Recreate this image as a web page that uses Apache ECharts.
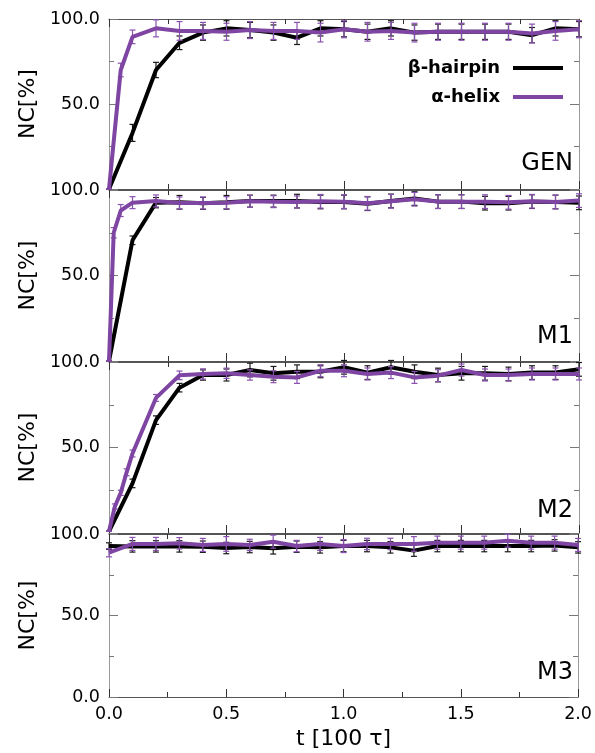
<!DOCTYPE html>
<html>
<head>
<meta charset="utf-8">
<script src="https://cdn.jsdelivr.net/npm/echarts@6/dist/echarts.min.js"></script>
<style>
html,body{margin:0;padding:0;background:#fff;}
#chart{width:595px;height:753px;}
</style>
</head>
<body>
<div id="chart"></div>
<script>
const panelNames=['GEN','M1','M2','M3'];
const seriesNames=['β-hairpin','α-helix'];

// time points
const tBlack=[0,0.1,0.2,0.3,0.4,0.5,0.6,0.7,0.8,0.9,1.0,1.1,1.2,1.3,1.4,1.5,1.6,1.7,1.8,1.9,2.0];
const tPurpleGen=[0,0.05,0.1,0.2,0.3,0.4,0.5,0.6,0.7,0.8,0.9,1.0,1.1,1.2,1.3,1.4,1.5,1.6,1.7,1.8,1.9,2.0];
const tPurpleM1=[0,0.02,0.05,0.1,0.2,0.3,0.4,0.5,0.6,0.7,0.8,0.9,1.0,1.1,1.2,1.3,1.4,1.5,1.6,1.7,1.8,1.9,2.0];
const tPurpleM2=[0,0.025,0.05,0.075,0.1,0.2,0.3,0.4,0.5,0.6,0.7,0.8,0.9,1.0,1.1,1.2,1.3,1.4,1.5,1.6,1.7,1.8,1.9,2.0];
const tPurpleM3=[0,0.1,0.2,0.3,0.4,0.5,0.6,0.7,0.8,0.9,1.0,1.1,1.2,1.3,1.4,1.5,1.6,1.7,1.8,1.9,2.0];

// GEN
const genBlack=[0,33,70,86,92,94.5,93.5,92,89,94.5,94,92.5,94.5,92,92.5,92.5,92.5,92.5,90.5,94.5,94];
const genBlackErr=[0,5,4.5,4,4.5,4.5,4.5,4.5,4,4.5,4.5,4.5,4.5,4.5,4.5,4.5,4.5,4.5,4.5,4.5,4.5];
const genPurple=[0,70,89.5,94.5,93,93,92.5,93.5,93,93,92,94,92.5,93,92,92.5,92.5,92.5,92.5,91.5,93,94];
const genPurpleErr=[0,4,4,5,5.5,5,5,5,5,5,5.5,5,5.5,5,5.5,5,5,5,5,5.5,5.5,5];

// M1
const m1Black=[0,70.6,92.6,92.8,92.2,92.8,93.5,93.5,93.5,93,93,92,93.6,95,93.2,93.2,92.3,92.3,93.2,93,92.5];
const m1BlackErr=[0,2.5,3,4,3.5,4,3.5,3.5,4,4,4,4,4,4,4,4,4,4,4,4,4];
const m1Purple=[0,75,88,92.6,93.6,92.4,92.4,92.6,93.4,93.2,93,93.4,93.2,92.2,93.4,94.6,93.2,93.2,93.2,92.8,93.4,93,93.8];
const m1PurpleErr=[0,3,3.5,3.5,3.5,3.5,3.5,3.5,3.5,3.5,3.5,4,4,4,4,4,4,4,4,4,4,4,4];

// M2
const m2Black=[1,29,66,85,92.4,92.4,95.3,93.4,94.3,94.3,96.9,93.8,96.9,94.3,92.4,93.4,93.4,93,93.8,93.8,95.7];
const m2BlackErr=[0,2.5,2.5,2.5,3,3.5,4,4,4,3.5,4,4,4,4,4,4,4,4,4,4,4];
const m2Purple=[1,15.5,23.5,35.5,46.5,79,92.2,93,93.4,92.4,91.4,91,94.9,94.9,93,93.8,91,92,95.3,92.4,92.4,93,93,93];
const m2PurpleErr=[0,1.5,1.5,2,2,2,2.5,3,3,3,3.5,3.5,3.5,3.5,3.5,3.5,3.5,3.5,3.5,3.5,3.5,3.5,3.5,3.5];

// M3
const m3Black=[92.6,92.4,92.4,92.4,92.2,91.4,92,91.2,92.2,91.8,92.6,92.6,91.8,89.8,92.6,92.6,92.6,92.6,92.6,93,91.8];
const m3BlackErr=[2,3.5,3.5,3.5,3.5,3.5,3.5,3.5,3.5,3.5,3.5,3.5,3.5,3.5,3.5,3.5,3.5,3.5,3.5,3.5,3.5];
const m3Purple=[88.5,93.9,93.9,94.3,93.3,93.9,93.3,95.3,92.6,93.9,92.6,93.9,93.9,93.9,94.7,94.7,94.7,95.9,94.7,94.7,93.3];
const m3PurpleErr=[2.5,4,4,3.5,4,4.5,3.5,4,3.5,4,4,3.5,3.5,4.5,4,4,4,4,4,4,4];

const panelData=[
  {tb:tBlack,b:genBlack,be:genBlackErr,tp:tPurpleGen,p:genPurple,pe:genPurpleErr},
  {tb:tBlack,b:m1Black,be:m1BlackErr,tp:tPurpleM1,p:m1Purple,pe:m1PurpleErr},
  {tb:tBlack,b:m2Black,be:m2BlackErr,tp:tPurpleM2,p:m2Purple,pe:m2PurpleErr},
  {tb:tBlack,b:m3Black,be:m3BlackErr,tp:tPurpleM3,p:m3Purple,pe:m3PurpleErr}
];

const BLACK='#000000';
const PURPLE='#7e45a3';
const FONT='DejaVu Sans';
const tops=[19,190,362,534];
const heights=[170,171,171,163];
const labelY=[165,338,512,674];

const chart=echarts.init(document.getElementById('chart'));

const grid=[],xAxis=[],yAxis=[],series=[],graphic=[];

function errRender(color){
  return function(params,api){
    const x=api.value(0);
    const lo=api.coord([x,api.value(1)]);
    const hi=api.coord([x,api.value(2)]);
    const c=3;
    const st={stroke:color,lineWidth:1.2,fill:null};
    return {type:'group',children:[
      {type:'line',shape:{x1:lo[0],y1:lo[1],x2:hi[0],y2:hi[1]},style:st},
      {type:'line',shape:{x1:lo[0]-c,y1:lo[1],x2:lo[0]+c,y2:lo[1]},style:st},
      {type:'line',shape:{x1:hi[0]-c,y1:hi[1],x2:hi[0]+c,y2:hi[1]},style:st}
    ]};
  };
}

const noLabel={show:false};
for(let i=0;i<4;i++){
  const d=panelData[i];
  const last=i===3;
  grid.push({left:109,width:470,top:tops[i],height:heights[i]});
  // minor-step axes carry the frame lines and short ticks
  const xMinor={
    type:'value',gridIndex:i,min:0,max:2,interval:0.25,
    axisLine:{show:true,onZero:false,lineStyle:{color:'#555',width:1}},
    axisTick:{show:true,inside:true,length:5,lineStyle:{color:'#333'}},
    splitLine:{show:false}
  };
  // major-step axes only add the longer ticks
  const xMajor={
    type:'value',gridIndex:i,min:0,max:2,interval:0.5,
    axisLine:{show:false,onZero:false},
    axisTick:{show:true,inside:true,length:8,lineStyle:{color:'#333'}},
    splitLine:{show:false},axisLabel:noLabel
  };
  xAxis.push(Object.assign({},xMinor,{
    position:'bottom',
    axisLabel:{show:last,margin:8,fontFamily:FONT,fontSize:17.5,color:'#000',
      formatter:v=>(Math.round(v*100)%50===0)?v.toFixed(1):''},
    name:last?'t [100 τ]':'',nameLocation:'middle',nameGap:31,
    nameTextStyle:{fontFamily:FONT,fontSize:22,color:'#000'}
  }));
  xAxis.push(Object.assign({},xMinor,{position:'top',axisLabel:noLabel}));
  xAxis.push(Object.assign({},xMajor,{position:'bottom'}));
  xAxis.push(Object.assign({},xMajor,{position:'top'}));

  const yMinor={
    type:'value',gridIndex:i,min:0,max:100,interval:25,
    axisLine:{show:true,onZero:false,lineStyle:{color:'#999',width:1}},
    axisTick:{show:true,inside:true,length:5,lineStyle:{color:'#777'}},
    splitLine:{show:false}
  };
  const yMajor={
    type:'value',gridIndex:i,min:0,max:100,interval:50,
    axisLine:{show:false,onZero:false},
    axisTick:{show:true,inside:true,length:9,lineStyle:{color:'#777'}},
    splitLine:{show:false},axisLabel:noLabel
  };
  yAxis.push(Object.assign({},yMinor,{
    position:'left',
    axisLabel:{show:true,margin:9,fontFamily:FONT,fontSize:17.5,color:'#000',
      formatter:v=>(v%50!==0||(v===0&&!last))?'':v.toFixed(1)},
    name:'NC[%]',nameLocation:'middle',nameGap:69,nameRotate:90,
    nameTextStyle:{fontFamily:FONT,fontSize:22,color:'#000'}
  }));
  yAxis.push(Object.assign({},yMinor,{position:'right',axisLabel:noLabel}));
  yAxis.push(Object.assign({},yMajor,{position:'left'}));
  yAxis.push(Object.assign({},yMajor,{position:'right'}));

  const xi=4*i,yi=4*i;
  series.push({
    type:'custom',xAxisIndex:xi,yAxisIndex:yi,z:2,silent:true,
    renderItem:errRender('#1a1a1a'),
    data:d.tb.map((t,k)=>[t,d.b[k]-d.be[k],d.b[k]+d.be[k]])
  });
  series.push({
    name:seriesNames[0],type:'line',xAxisIndex:xi,yAxisIndex:yi,z:3,
    symbol:'none',lineStyle:{color:BLACK,width:4},itemStyle:{color:BLACK},
    data:d.tb.map((t,k)=>[t,d.b[k]])
  });
  series.push({
    type:'custom',xAxisIndex:xi,yAxisIndex:yi,z:4,silent:true,
    renderItem:errRender('#8a52b0'),
    data:d.tp.map((t,k)=>[t,d.p[k]-d.pe[k],d.p[k]+d.pe[k]])
  });
  series.push({
    name:seriesNames[1],type:'line',xAxisIndex:xi,yAxisIndex:yi,z:5,
    symbol:'none',lineStyle:{color:PURPLE,width:4},itemStyle:{color:PURPLE},
    data:d.tp.map((t,k)=>[t,d.p[k]])
  });

  graphic.push({
    type:'text',right:22,top:labelY[i]-13,
    style:{text:panelNames[i],font:'24px "DejaVu Sans"',fill:'#000'}
  });
}

const legendBase={
  orient:'horizontal',align:'right',right:32,padding:0,
  icon:'rect',itemWidth:50,itemHeight:4,
  textStyle:{fontFamily:FONT,fontSize:18,fontWeight:'bold',color:'#000',padding:[0,8,0,0]}
};

chart.setOption({
  animation:false,
  backgroundColor:'#fff',
  grid:grid,
  xAxis:xAxis,
  yAxis:yAxis,
  legend:[
    Object.assign({},legendBase,{top:59,data:[seriesNames[0]]}),
    Object.assign({},legendBase,{top:88,data:[seriesNames[1]]})
  ],
  graphic:graphic,
  series:series
});
</script>
</body>
</html>
